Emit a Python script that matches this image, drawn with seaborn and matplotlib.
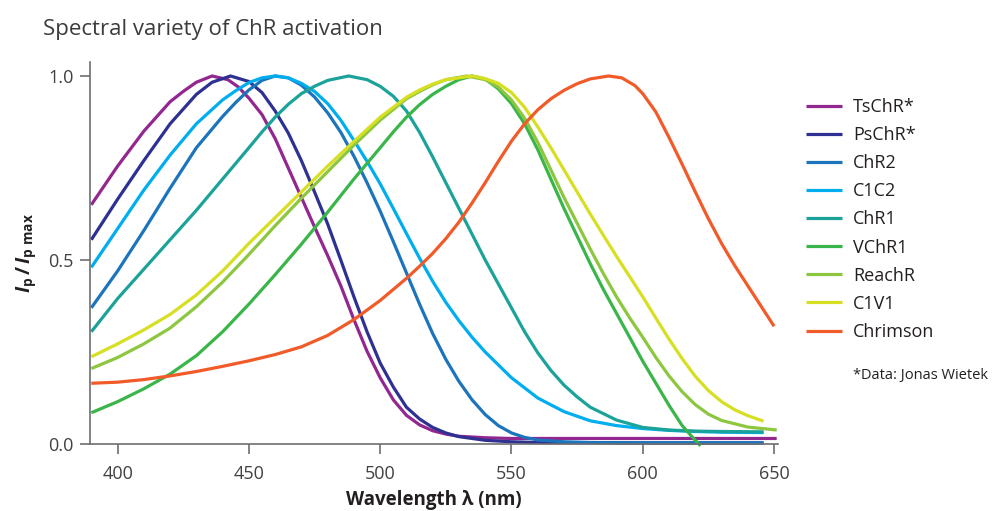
import matplotlib.pyplot as plt
import seaborn as sns
import pandas as pd

# normalised photocurrent Ip/Ip,max vs wavelength (nm)
tschr_wl = [390, 400, 410, 420, 425, 430, 436, 442, 446, 450, 455, 460, 465, 470, 475, 480, 485, 490, 495, 500,
            505, 510, 515, 520, 525, 530, 540, 550, 600, 651]
tschr_ip = [0.65, 0.755, 0.85, 0.93, 0.958, 0.983, 1.0, 0.99, 0.97, 0.94, 0.895, 0.83, 0.75, 0.67, 0.59, 0.512, 0.43, 0.338, 0.252, 0.18,
            0.12, 0.078, 0.052, 0.036, 0.027, 0.021, 0.017, 0.015, 0.015, 0.015]

pschr_wl = [390, 400, 410, 420, 425, 430, 436, 443, 450, 455, 460, 465, 470, 475, 480, 485, 490, 495, 500, 505,
            510, 515, 520, 525, 530, 540, 550, 560, 600, 646]
pschr_ip = [0.555, 0.665, 0.77, 0.87, 0.91, 0.95, 0.983, 1.0, 0.985, 0.955, 0.905, 0.845, 0.77, 0.685, 0.598, 0.50, 0.40, 0.305, 0.22, 0.155,
            0.10, 0.068, 0.045, 0.03, 0.02, 0.01, 0.006, 0.004, 0.003, 0.003]

chr2_wl = [390, 400, 410, 420, 430, 440, 445, 450, 455, 460, 465, 470, 475, 480, 485, 490, 495, 500, 505, 510,
           515, 520, 525, 530, 535, 540, 545, 550, 555, 560, 570, 580, 600, 646]
chr2_ip = [0.37, 0.47, 0.58, 0.695, 0.805, 0.89, 0.928, 0.962, 0.988, 1.0, 0.995, 0.975, 0.943, 0.90, 0.847, 0.782, 0.71, 0.633, 0.55, 0.465,
           0.38, 0.30, 0.23, 0.17, 0.12, 0.08, 0.05, 0.03, 0.018, 0.011, 0.006, 0.004, 0.003, 0.003]

c1c2_wl = [390, 400, 410, 420, 430, 440, 445, 450, 455, 460, 465, 470, 475, 480, 485, 490, 495, 500, 505, 510,
           515, 520, 525, 530, 535, 540, 550, 560, 570, 580, 590, 600, 610, 620, 630, 646]
c1c2_ip = [0.48, 0.585, 0.69, 0.785, 0.87, 0.935, 0.96, 0.982, 0.995, 1.0, 0.995, 0.98, 0.958, 0.925, 0.88, 0.825, 0.768, 0.707, 0.64, 0.572,
           0.505, 0.442, 0.385, 0.335, 0.29, 0.25, 0.18, 0.125, 0.088, 0.063, 0.05, 0.042, 0.037, 0.034, 0.032, 0.031]

chr1_wl = [390, 400, 410, 420, 430, 440, 450, 455, 460, 465, 470, 475, 480, 488, 495, 500, 505, 510, 515, 520,
           525, 530, 535, 540, 545, 550, 555, 560, 565, 570, 575, 580, 590, 600, 610, 620, 630, 646]
chr1_ip = [0.305, 0.395, 0.475, 0.555, 0.635, 0.72, 0.805, 0.848, 0.888, 0.923, 0.952, 0.972, 0.988, 1.0, 0.99, 0.972, 0.945, 0.905, 0.847, 0.78,
           0.71, 0.64, 0.57, 0.50, 0.435, 0.37, 0.305, 0.248, 0.20, 0.16, 0.128, 0.10, 0.065, 0.045, 0.038, 0.035, 0.034, 0.033]

vchr1_wl = [390, 400, 410, 420, 430, 440, 450, 460, 470, 480, 490, 500, 505, 510, 515, 520, 525, 530, 535, 540,
            545, 550, 555, 560, 565, 570, 575, 580, 585, 590, 595, 600, 605, 610, 615, 620, 622]
vchr1_ip = [0.085, 0.115, 0.15, 0.19, 0.24, 0.305, 0.38, 0.46, 0.543, 0.63, 0.72, 0.805, 0.848, 0.888, 0.922, 0.95, 0.972, 0.99, 1.0, 0.992,
            0.965, 0.925, 0.87, 0.80, 0.72, 0.64, 0.565, 0.49, 0.42, 0.355, 0.29, 0.225, 0.165, 0.105, 0.05, 0.01, -0.005]

reachr_wl = [390, 400, 410, 420, 430, 440, 450, 460, 470, 480, 490, 500, 510, 515, 520, 525, 533, 540, 545, 550,
             555, 560, 565, 570, 575, 580, 585, 590, 595, 600, 605, 610, 615, 620, 625, 630, 640, 651]
reachr_ip = [0.205, 0.235, 0.272, 0.315, 0.373, 0.44, 0.515, 0.593, 0.668, 0.74, 0.812, 0.88, 0.938, 0.958, 0.976, 0.99, 1.0, 0.99, 0.97, 0.935,
             0.885, 0.82, 0.745, 0.67, 0.60, 0.53, 0.463, 0.40, 0.343, 0.29, 0.235, 0.185, 0.142, 0.107, 0.081, 0.064, 0.046, 0.038]

c1v1_wl = [390, 400, 410, 420, 430, 440, 450, 460, 470, 480, 490, 500, 510, 515, 520, 525, 535, 540, 545, 550,
           555, 560, 565, 570, 575, 580, 585, 590, 595, 600, 605, 610, 615, 620, 625, 630, 635, 640, 646]
c1v1_ip = [0.237, 0.272, 0.31, 0.352, 0.405, 0.47, 0.545, 0.615, 0.685, 0.755, 0.822, 0.888, 0.942, 0.962, 0.978, 0.99, 1.0, 0.993, 0.98, 0.955,
           0.915, 0.862, 0.805, 0.745, 0.685, 0.625, 0.567, 0.51, 0.455, 0.40, 0.342, 0.285, 0.232, 0.184, 0.145, 0.115, 0.093, 0.077, 0.062]

chrimson_wl = [390, 400, 410, 420, 430, 440, 450, 460, 470, 480, 490, 500, 510, 515, 520, 525, 530, 535, 540, 545,
               550, 555, 560, 565, 570, 575, 580, 587, 592, 597, 600, 605, 610, 615, 620, 625, 630, 635, 640, 645, 650]
chrimson_ip = [0.165, 0.168, 0.175, 0.185, 0.197, 0.211, 0.226, 0.243, 0.264, 0.295, 0.338, 0.39, 0.45, 0.483, 0.518, 0.558, 0.603, 0.655, 0.71, 0.768,
               0.823, 0.87, 0.908, 0.938, 0.961, 0.979, 0.992, 1.0, 0.995, 0.974, 0.952, 0.902, 0.833, 0.76, 0.685, 0.612, 0.545, 0.485, 0.43, 0.375, 0.32]

variants = ["TsChR*", "PsChR*", "ChR2", "C1C2", "ChR1", "VChR1", "ReachR", "C1V1", "Chrimson"]
colors = ["#92278f", "#2e3192", "#1c75bc", "#00aeef", "#1ba39a",
          "#39b54a", "#8dc63f", "#d7df23", "#f15a29"]

wl_lists = [tschr_wl, pschr_wl, chr2_wl, c1c2_wl, chr1_wl, vchr1_wl, reachr_wl, c1v1_wl, chrimson_wl]
ip_lists = [tschr_ip, pschr_ip, chr2_ip, c1c2_ip, chr1_ip, vchr1_ip, reachr_ip, c1v1_ip, chrimson_ip]

frames = []
for name, wl, ip in zip(variants, wl_lists, ip_lists):
    frames.append(pd.DataFrame({"wavelength": wl, "ip": ip, "variant": name}))
df = pd.concat(frames, ignore_index=True)

sns.set_style("ticks")
plt.rcParams["font.family"] = ["Open Sans", "DejaVu Sans"]
plt.rcParams["mathtext.fontset"] = "custom"
plt.rcParams["mathtext.rm"] = "Open Sans:bold"
plt.rcParams["mathtext.it"] = "Open Sans:italic:bold"
plt.rcParams["mathtext.bf"] = "Open Sans:bold"

axis_grey = "#6d6e71"
text_grey = "#414042"

fig = plt.figure(figsize=(9.93, 5.11), dpi=100)
ax = fig.add_axes([90 / 993, 67 / 511, (778 - 90) / 993, (444 - 62) / 511])

sns.lineplot(data=df, x="wavelength", y="ip", hue="variant", hue_order=variants,
             palette=colors, sort=False, estimator=None, linewidth=2.3, ax=ax)
for line in ax.lines:
    line.set_clip_on(False)
    line.set_solid_capstyle("butt")
    line.set_solid_joinstyle("round")

ax.set_xlim(389.5, 651.5)
ax.set_ylim(0, 1.038)
ax.set_xticks([400, 450, 500, 550, 600, 650])
ax.set_yticks([0.0, 0.5, 1.0])
ax.set_yticklabels(["0.0", "0.5", "1.0"])

sns.despine(ax=ax)
for side in ["left", "bottom"]:
    ax.spines[side].set_color(axis_grey)
    ax.spines[side].set_linewidth(1.2)
ax.tick_params(direction="out", length=7, width=1.2, color=axis_grey,
               labelcolor=text_grey, labelsize=13)
ax.tick_params(axis="x", pad=8)
ax.tick_params(axis="y", pad=5)

ax.set_xlabel("Wavelength λ (nm)", fontsize=13.5, fontweight="bold",
              color="#231f20", labelpad=5)
ax.set_ylabel(r"$I_\mathrm{p}\,/\,I_\mathrm{p\ max}$", fontsize=14, color="#231f20")
ax.yaxis.set_label_coords(-0.075, 0.5)

fig.text(43 / 993, 1 - 29 / 511, "Spectral variety of ChR activation",
         fontsize=16, color="#3c3c3c", ha="left", va="center")

handles, labels = ax.get_legend_handles_labels()
leg = ax.legend(handles, labels, loc="upper left", frameon=False,
                bbox_to_anchor=(806 / 993, 1 - 98 / 511), bbox_transform=fig.transFigure,
                fontsize=13, handlelength=2.0, handletextpad=0.6,
                labelspacing=0.56, borderpad=0, borderaxespad=0)
for text in leg.get_texts():
    text.set_color("#231f20")

fig.text(853 / 993, 1 - 375 / 511, "*Data: Jonas Wietek", fontsize=10.5,
         color="#231f20", ha="left", va="center")

fig.savefig("out.png", dpi=100)
